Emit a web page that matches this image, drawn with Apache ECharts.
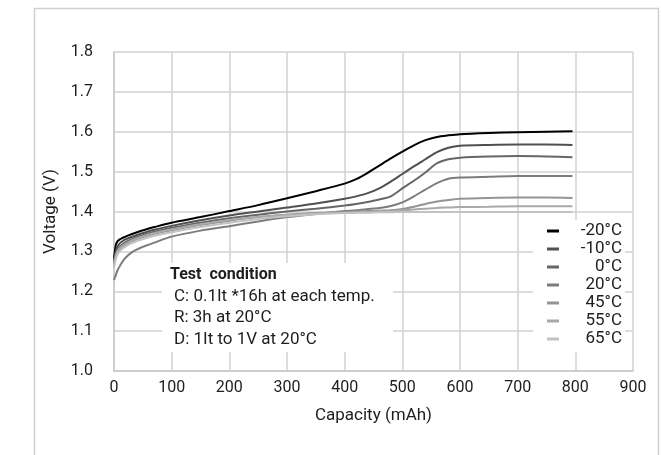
<!DOCTYPE html>
<html>
<head>
<meta charset="utf-8">
<script src="https://cdn.jsdelivr.net/npm/echarts@6/dist/echarts.min.js"></script>
<style>
html,body{margin:0;padding:0;background:#fff;}
#chart{width:661px;height:455px;}
</style>
</head>
<body>
<div id="chart"></div>
<script>
const capacity = [0,3,6,10,15,20,30,40,55,70,100,150,200,250,300,350,400,420,440,460,480,500,520,540,560,580,600,650,700,750,795];
const seriesNames = ['-20°C','-10°C','0°C','20°C','45°C','55°C','65°C'];
const vM20 = [1.282,1.315,1.325,1.330,1.334,1.337,1.343,1.348,1.355,1.361,1.372,1.386,1.401,1.416,1.433,1.451,1.470,1.481,1.497,1.515,1.533,1.550,1.566,1.579,1.587,1.591,1.594,1.597,1.599,1.600,1.601];
const vM10 = [1.275,1.300,1.312,1.320,1.326,1.330,1.336,1.341,1.348,1.354,1.364,1.378,1.390,1.400,1.410,1.420,1.432,1.438,1.446,1.458,1.475,1.494,1.513,1.531,1.549,1.560,1.565,1.567,1.568,1.568,1.567];
const v0 = [1.268,1.292,1.304,1.312,1.318,1.323,1.330,1.336,1.343,1.349,1.359,1.372,1.383,1.392,1.400,1.407,1.415,1.419,1.424,1.430,1.438,1.458,1.477,1.498,1.521,1.531,1.535,1.538,1.539,1.538,1.536];
const v20 = [1.228,1.240,1.252,1.263,1.275,1.284,1.297,1.305,1.314,1.322,1.337,1.352,1.363,1.375,1.386,1.394,1.401,1.403,1.406,1.409,1.414,1.423,1.438,1.455,1.471,1.482,1.485,1.487,1.489,1.489,1.489];
const v45 = [1.262,1.285,1.297,1.305,1.312,1.317,1.325,1.331,1.338,1.344,1.353,1.366,1.377,1.386,1.392,1.396,1.399,1.400,1.401,1.402,1.403,1.406,1.412,1.419,1.425,1.429,1.432,1.434,1.435,1.435,1.434];
const v55 = [1.265,1.288,1.300,1.308,1.314,1.319,1.327,1.333,1.340,1.346,1.355,1.368,1.379,1.386,1.391,1.395,1.397,1.398,1.399,1.400,1.401,1.403,1.405,1.407,1.409,1.410,1.411,1.412,1.413,1.413,1.413];
const v65 = [1.258,1.280,1.292,1.300,1.307,1.312,1.320,1.326,1.333,1.339,1.348,1.361,1.372,1.381,1.388,1.393,1.396,1.397,1.397,1.398,1.398,1.399,1.399,1.399,1.399,1.399,1.399,1.399,1.399,1.399,1.399];
const seriesValues = [vM20, vM10, v0, v20, v45, v55, v65];
const seriesColors = ['#000000','#505050','#676767','#7c7c7c','#949494','#a9a9a9','#c2c2c2'];
const testLines = ['C: 0.1It *16h at each temp.','R: 3h at 20°C','D: 1It to 1V at 20°C'];

const FONT = 'Roboto, "Noto Sans", sans-serif';
const TXT = '#1e1e1e';
const chart = echarts.init(document.getElementById('chart'), null, {renderer:'canvas'});

const series = seriesNames.map((name, i) => ({
  name: name,
  type: 'line',
  data: capacity.map((c, j) => [c, seriesValues[i][j]]),
  showSymbol: false,
  smooth: 0.25,
  lineStyle: {color: seriesColors[i], width: 2},
  itemStyle: {color: seriesColors[i]},
  z: 3
}));

const graphic = [
  {type:'rect', left:32, top:6, shape:{width:624, height:470}, style:{fill:'none', stroke:'#d0d0d0', lineWidth:1.5}, silent:true, z:0},
  {type:'rect', left:162, top:263, shape:{width:231, height:89}, style:{fill:'#ffffff'}, silent:true, z:2},
  {type:'text', left:170, top:267, style:{text:'Test  condition', font:'bold 16px ' + FONT, fill:TXT}, z:3}
];
testLines.forEach((t, k) => {
  graphic.push({type:'text', left:174, top:288 + k*21.5, style:{text:t, font:'17px ' + FONT, fill:TXT}, z:3});
});

chart.setOption({
  animation: false,
  backgroundColor: '#ffffff',
  textStyle: {fontFamily: FONT},
  grid: {left:114, right:28, top:52, bottom:84, containLabel:false},
  xAxis: {
    type:'value', min:0, max:900, interval:100,
    name:'Capacity (mAh)', nameLocation:'middle', nameGap:36,
    nameTextStyle:{fontSize:17, color:TXT, fontFamily:FONT},
    axisLine:{show:true, lineStyle:{color:'#c8c8c8', width:1.5}},
    axisTick:{show:false},
    axisLabel:{fontSize:16, color:TXT, margin:9, fontFamily:FONT},
    splitLine:{show:true, lineStyle:{color:'#d2d2d2', width:1.5}}
  },
  yAxis: {
    type:'value', min:1.0, max:1.8, interval:0.1,
    name:'Voltage (V)', nameLocation:'middle', nameGap:55, nameRotate:90,
    nameTextStyle:{fontSize:17, color:TXT, fontFamily:FONT},
    axisLine:{show:true, lineStyle:{color:'#c8c8c8', width:1.5}},
    axisTick:{show:false},
    axisLabel:{fontSize:16, color:TXT, margin:21, fontFamily:FONT, formatter: v => v.toFixed(1)},
    splitLine:{show:true, lineStyle:{color:'#d2d2d2', width:1.5}}
  },
  legend: {
    data: seriesNames,
    orient:'vertical',
    left:533, top:220,
    padding:[2,3,4,14],
    backgroundColor:'#ffffff',
    itemWidth:12, itemHeight:3, itemGap:0,
    icon:'rect',
    selectedMode:false,
    formatter: n => '{a|' + n + '}',
    textStyle:{fontSize:17, color:TXT, fontFamily:FONT, lineHeight:18,
      rich:{a:{width:58, align:'right', fontSize:17, lineHeight:18, fontFamily:FONT, color:TXT}}},
    z:4
  },
  graphic: graphic,
  series: series
});
</script>
</body>
</html>
